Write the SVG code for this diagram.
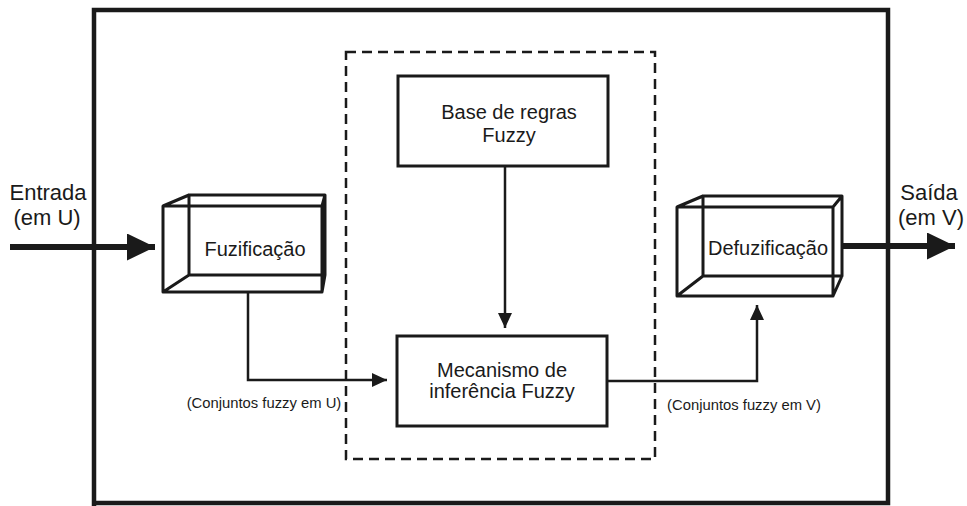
<svg xmlns="http://www.w3.org/2000/svg" width="967" height="506" viewBox="0 0 967 506">
<style>
  .t { font-family: "Liberation Sans", Arial, sans-serif; fill: #1a1a1a; text-anchor: middle; }
  .box { fill: none; stroke: #1a1a1a; stroke-width: 3; }
  .box3d { fill: none; stroke: #1a1a1a; stroke-width: 3; stroke-linejoin: round; }
  .ln { fill: none; stroke: #1a1a1a; stroke-width: 2.5; }
  .thick { fill: none; stroke: #1a1a1a; stroke-width: 6; }
</style>
<defs>
  <marker id="ah" viewBox="0 0 15 14" refX="15" refY="7" markerWidth="15" markerHeight="14" markerUnits="userSpaceOnUse" orient="auto">
    <path d="M0,0 L15,7 L0,14 Z" fill="#1a1a1a"/>
  </marker>
  <marker id="bigah" viewBox="0 0 28 27" refX="28" refY="13.5" markerWidth="28" markerHeight="27" markerUnits="userSpaceOnUse" orient="auto">
    <path d="M0,0 L28,13.5 L0,27 Z" fill="#1a1a1a"/>
  </marker>
</defs>
<rect width="967" height="506" fill="#ffffff"/>

<g id="frame">
  <path d="M94,506 L94,10 L888,10 L888,503 L94,503" fill="none" stroke="#1a1a1a" stroke-width="4.5"/>
</g>

<g id="dashed-group">
  <rect x="346" y="52" width="309" height="407" fill="none" stroke="#1a1a1a" stroke-width="2.5" stroke-dasharray="10 6"/>
</g>

<g id="base-regras">
  <rect class="box" x="398" y="76" width="210" height="90"/>
  <text class="t" x="509" y="119" font-size="20">Base de regras</text>
  <text class="t" x="509" y="142" font-size="20">Fuzzy</text>
</g>

<g id="mecanismo">
  <rect class="box" x="397" y="336" width="210" height="90"/>
  <text class="t" x="502" y="377" font-size="20">Mecanismo de</text>
  <text class="t" x="502" y="398" font-size="20">inferência Fuzzy</text>
</g>

<g id="fuzificacao">
  <path class="box3d" d="M163,206 L322,206 L322,292 L163,292 Z M189,195 L325,195 L325,275 L189,275 Z M163,206 L189,195 M322,206 L325,195 M163,292 L189,275 M322,292 L325,275"/>
  <text class="t" x="255" y="256" font-size="20">Fuzificação</text>
</g>

<g id="defuzificacao">
  <path class="box3d" d="M677,207 L833,207 L833,296 L677,296 Z M703,196 L842,196 L842,276 L703,276 Z M677,207 L703,196 M833,207 L842,196 M677,296 L703,276 M833,296 L842,276"/>
  <text class="t" x="768" y="255" font-size="20">Defuzificação</text>
</g>

<g id="connectors">
  <line class="thick" x1="10" y1="247" x2="155" y2="247" marker-end="url(#bigah)"/>
  <line class="thick" x1="842" y1="246" x2="955" y2="246" marker-end="url(#bigah)"/>
  <line class="ln" x1="505" y1="166" x2="505" y2="328" marker-end="url(#ah)"/>
  <polyline class="ln" points="248,292 248,380 387,380" marker-end="url(#ah)"/>
  <polyline class="ln" points="607,381 757,381 757,305" marker-end="url(#ah)"/>
</g>

<g id="labels">
  <text class="t" x="48" y="200" font-size="22">Entrada</text>
  <text class="t" x="47" y="225" font-size="22">(em U)</text>
  <text class="t" x="929" y="200" font-size="22">Saída</text>
  <text class="t" x="931" y="225" font-size="22">(em V)</text>
  <text class="t" x="264" y="408" font-size="14.8">(Conjuntos fuzzy em U)</text>
  <text class="t" x="744" y="410" font-size="14.8">(Conjuntos fuzzy em V)</text>
</g>
</svg>
